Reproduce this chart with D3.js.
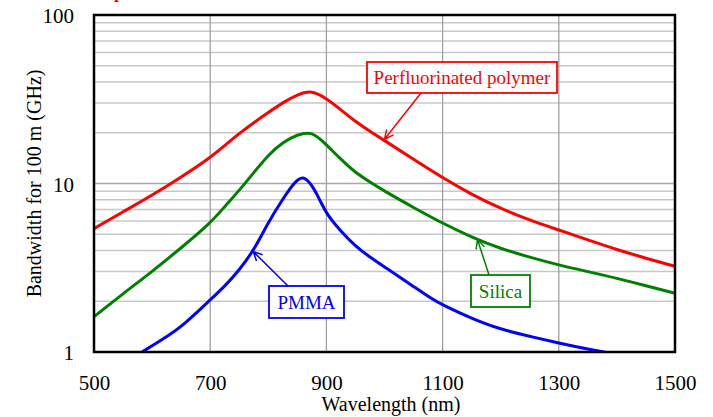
<!DOCTYPE html>
<html>
<head>
<meta charset="utf-8">
<script src="https://cdn.jsdelivr.net/npm/d3@7"></script>
<style>
  body { margin: 0; background: #fff; }
  text { font-family: "Liberation Serif", "Times New Roman", serif; }
</style>
</head>
<body>
<div id="chart"></div>
<script>
// values (GHz for 100 m)
const wavelengths = [500, 550, 600, 650, 700, 725, 750, 775, 800, 825, 850, 875, 900, 925, 950, 975, 1000, 1050, 1100, 1150, 1200, 1250, 1300, 1350, 1400, 1450, 1500];
const perfluorinated = [5.4, 6.8, 8.5, 10.9, 14.2, 16.8, 19.8, 23.0, 26.4, 30.2, 33.8, 35.8, 32.0, 27.4, 23.3, 20.4, 18.0, 13.9, 10.8, 8.6, 7.1, 6.05, 5.3, 4.62, 4.05, 3.6, 3.22];
const silica = [1.62, 2.22, 3.0, 4.15, 5.8, 7.3, 9.1, 11.6, 14.8, 17.6, 19.5, 20.5, 17.0, 13.9, 11.6, 10.2, 9.0, 7.2, 5.8, 4.8, 4.1, 3.65, 3.28, 3.0, 2.74, 2.47, 2.23];

const pmmaWavelengths = [570, 620, 650, 700, 725, 750, 775, 800, 825, 845, 860, 875, 888, 900, 925, 950, 975, 1000, 1050, 1080, 1100, 1150, 1200, 1250, 1300, 1350, 1400];
const pmma = [0.94, 1.2, 1.4, 2.04, 2.45, 3.07, 4.0, 5.9, 8.1, 10.2, 11.2, 9.8, 8.1, 6.6, 5.2, 4.25, 3.65, 3.2, 2.45, 2.08, 1.9, 1.58, 1.36, 1.24, 1.13, 1.04, 0.97];

const xTicks = [500, 700, 900, 1100, 1300, 1500];
const yTicks = [1, 10, 100];

const width = 713;
const height = 417;
const marginTop = 15;
const marginRight = 38;
const marginBottom = 65;
const marginLeft = 94;

const x = d3.scaleLinear()
  .domain([500, 1500])
  .range([marginLeft, width - marginRight]);

const y = d3.scaleLog()
  .domain([1, 100])
  .range([height - marginBottom, marginTop]);

const svg = d3.select("#chart")
  .append("svg")
  .attr("width", width)
  .attr("height", height);

// cut-off red title remnant at the very top
svg.append("text")
  .attr("x", 114)
  .attr("y", -2)
  .attr("fill", "#ff0000")
  .attr("font-family", "Liberation Sans")
  .attr("font-weight", "bold")
  .attr("font-size", 18)
  .text("p");

// horizontal grid: minor log lines
const minor = [];
for (const decade of [1, 10]) {
  for (let k = 2; k <= 9; k++) minor.push(decade * k);
}
svg.append("g")
  .attr("stroke", "#c8c8c8")
  .attr("stroke-width", 1.5)
  .selectAll("line")
  .data(minor)
  .join("line")
  .attr("x1", x(500))
  .attr("x2", x(1500))
  .attr("y1", d => y(d))
  .attr("y2", d => y(d));

svg.append("line")
  .attr("x1", x(500))
  .attr("x2", x(1500))
  .attr("y1", y(10))
  .attr("y2", y(10))
  .attr("stroke", "#a8a8a8")
  .attr("stroke-width", 1.5);

// vertical grid
svg.append("g")
  .attr("stroke", "#a0a0a0")
  .attr("stroke-width", 1.3)
  .selectAll("line")
  .data(xTicks.slice(1, -1))
  .join("line")
  .attr("x1", d => x(d))
  .attr("x2", d => x(d))
  .attr("y1", y(1))
  .attr("y2", y(100));

// curves, clipped to the plot frame
svg.append("clipPath")
  .attr("id", "plot-clip")
  .append("rect")
  .attr("x", x(500))
  .attr("y", y(100))
  .attr("width", x(1500) - x(500))
  .attr("height", y(1) - y(100));

const line = d3.line()
  .x(d => x(d[0]))
  .y(d => y(d[1]))
  .curve(d3.curveBasis);

const series = [
  { color: "#ff0000", pts: d3.zip(wavelengths, perfluorinated) },
  { color: "#008000", pts: d3.zip(wavelengths, silica) },
  { color: "#0000ff", pts: d3.zip(pmmaWavelengths, pmma) }
];

svg.append("g")
  .attr("clip-path", "url(#plot-clip)")
  .selectAll("path")
  .data(series)
  .join("path")
  .attr("fill", "none")
  .attr("stroke", d => d.color)
  .attr("stroke-width", 3)
  .attr("d", d => line(d.pts));

// frame
svg.append("rect")
  .attr("x", x(500))
  .attr("y", y(100))
  .attr("width", x(1500) - x(500))
  .attr("height", y(1) - y(100))
  .attr("fill", "none")
  .attr("stroke", "#000")
  .attr("stroke-width", 2.5);

// axes
svg.append("g")
  .attr("transform", `translate(0, ${height - marginBottom})`)
  .call(d3.axisBottom(x).tickValues(xTicks).tickSize(0).tickFormat(d3.format("d")))
  .call(g => g.select(".domain").remove())
  .call(g => g.selectAll("text")
    .attr("y", 38)
    .attr("dy", null)
    .attr("font-family", "Liberation Serif")
    .attr("font-size", 21)
    .attr("fill", "#000"));

svg.append("g")
  .attr("transform", `translate(${marginLeft}, 0)`)
  .call(d3.axisLeft(y).tickValues(yTicks).tickSize(0).tickPadding(20).tickFormat(d3.format("d")))
  .call(g => g.select(".domain").remove())
  .call(g => g.selectAll("text")
    .attr("font-family", "Liberation Serif")
    .attr("font-size", 21)
    .attr("dy", "0.36em")
    .attr("fill", "#000"));

svg.append("text")
  .attr("x", 391)
  .attr("y", 411)
  .attr("text-anchor", "middle")
  .attr("font-size", 20)
  .text("Wavelength (nm)");

svg.append("text")
  .attr("transform", `translate(41, ${(y(1) + y(100)) / 2}) rotate(-90)`)
  .attr("text-anchor", "middle")
  .attr("font-size", 20)
  .text("Bandwidth for 100 m (GHz)");

// callouts
const callouts = [
  { label: "Perfluorinated polymer", color: "#ff0000", box: [367, 62, 190, 31], from: [421, 93], to: [1000, 18.3] },
  { label: "Silica", color: "#008000", box: [471, 275, 59, 32], from: [489, 275], to: [1160, 4.65] },
  { label: "PMMA", color: "#0000ff", box: [269, 286, 75, 32], from: [288, 286], to: [774, 3.95] }
];

const callout = svg.append("g")
  .selectAll("g")
  .data(callouts)
  .join("g");

callout.append("rect")
  .attr("x", d => d.box[0])
  .attr("y", d => d.box[1])
  .attr("width", d => d.box[2])
  .attr("height", d => d.box[3])
  .attr("fill", "#fff")
  .attr("stroke", d => d.color)
  .attr("stroke-width", 1.8);

callout.append("text")
  .attr("x", d => d.box[0] + d.box[2] / 2)
  .attr("y", d => d.box[1] + d.box[3] / 2 + 6.5)
  .attr("text-anchor", "middle")
  .attr("font-size", 19)
  .attr("fill", d => d.color)
  .text(d => d.label);

callout.append("path")
  .attr("fill", "none")
  .attr("stroke", d => d.color)
  .attr("stroke-width", 1.5)
  .attr("d", d => {
    const [x0, y0] = d.from;
    const x1 = x(d.to[0]);
    const y1 = y(d.to[1]);
    const a = Math.atan2(y1 - y0, x1 - x0);
    const L = 10;
    const s = 0.45;
    const h1 = [x1 - L * Math.cos(a - s), y1 - L * Math.sin(a - s)];
    const h2 = [x1 - L * Math.cos(a + s), y1 - L * Math.sin(a + s)];
    return `M${x0},${y0}L${x1},${y1}M${h1[0]},${h1[1]}L${x1},${y1}L${h2[0]},${h2[1]}`;
  });
</script>
</body>
</html>
